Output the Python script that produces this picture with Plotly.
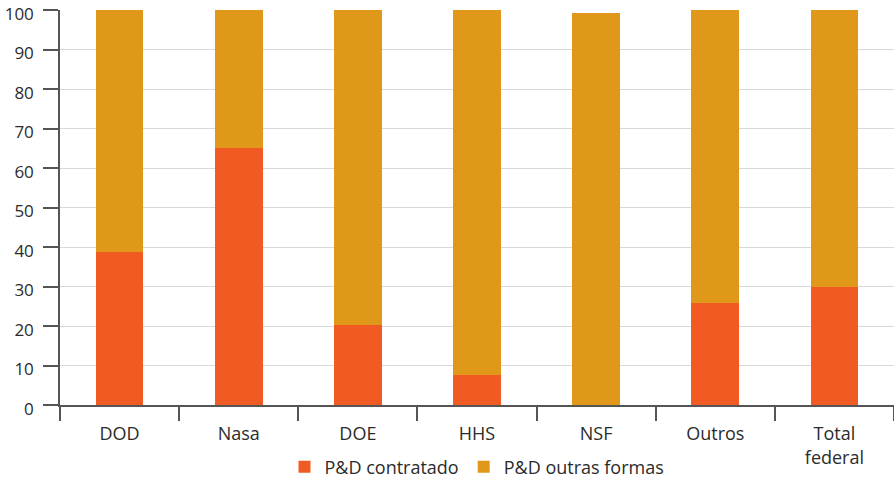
import plotly.graph_objects as go

categories = ["DOD", "Nasa", "DOE", "HHS", "NSF", "Outros", "Total<br>federal"]
contratado = [38.8, 65.0, 20.3, 7.7, 0.0, 25.9, 30.0]
outras = [61.2, 35.0, 79.7, 92.3, 99.2, 74.1, 70.0]
y_ticks = list(range(0, 101, 10))

font_family = "Open Sans, Lato, sans-serif"
text_color = "#2b2b2b"
axis_color = "#555555"

fig = go.Figure()
fig.add_trace(go.Bar(name="P&D contratado", x=categories, y=contratado,
                     marker=dict(color="#F15A22", line=dict(width=0)), width=0.4))
fig.add_trace(go.Bar(name="P&D outras formas", x=categories, y=outras,
                     marker=dict(color="#E0981A", line=dict(width=0)), width=0.4))

fig.update_layout(
    barmode="stack",
    width=894, height=479,
    margin=dict(l=60, r=0, t=10, b=74, autoexpand=False),
    plot_bgcolor="white", paper_bgcolor="white",
    font=dict(family=font_family, size=17, color=text_color),
    showlegend=True,
    legend=dict(orientation="h", x=0.5, xanchor="center",
                yref="container", y=0.025, yanchor="middle",
                font=dict(size=18, color=text_color), traceorder="normal",
                itemwidth=30, itemsizing="constant", tracegroupgap=0),
)
fig.update_xaxes(
    showline=True, linecolor=axis_color, linewidth=1.5,
    ticks="outside", tickson="boundaries", ticklen=14, tickcolor=axis_color, tickwidth=1.5,
    ticklabelstandoff=12, showgrid=False, automargin=False,
    tickfont=dict(size=18),
)
fig.update_yaxes(
    range=[0, 100], tickvals=y_ticks, showline=True, linecolor=axis_color, linewidth=1.5,
    ticks="outside", ticklen=15, tickcolor=axis_color, tickwidth=1.5,
    ticklabelstandoff=6, ticklabelshift=4,
    ticklabeloverflow="allow", tickfont=dict(size=17),
    showgrid=True, gridcolor="#d9d9d9", gridwidth=1, zeroline=False, automargin=False,
)

fig.write_html("out.html")
